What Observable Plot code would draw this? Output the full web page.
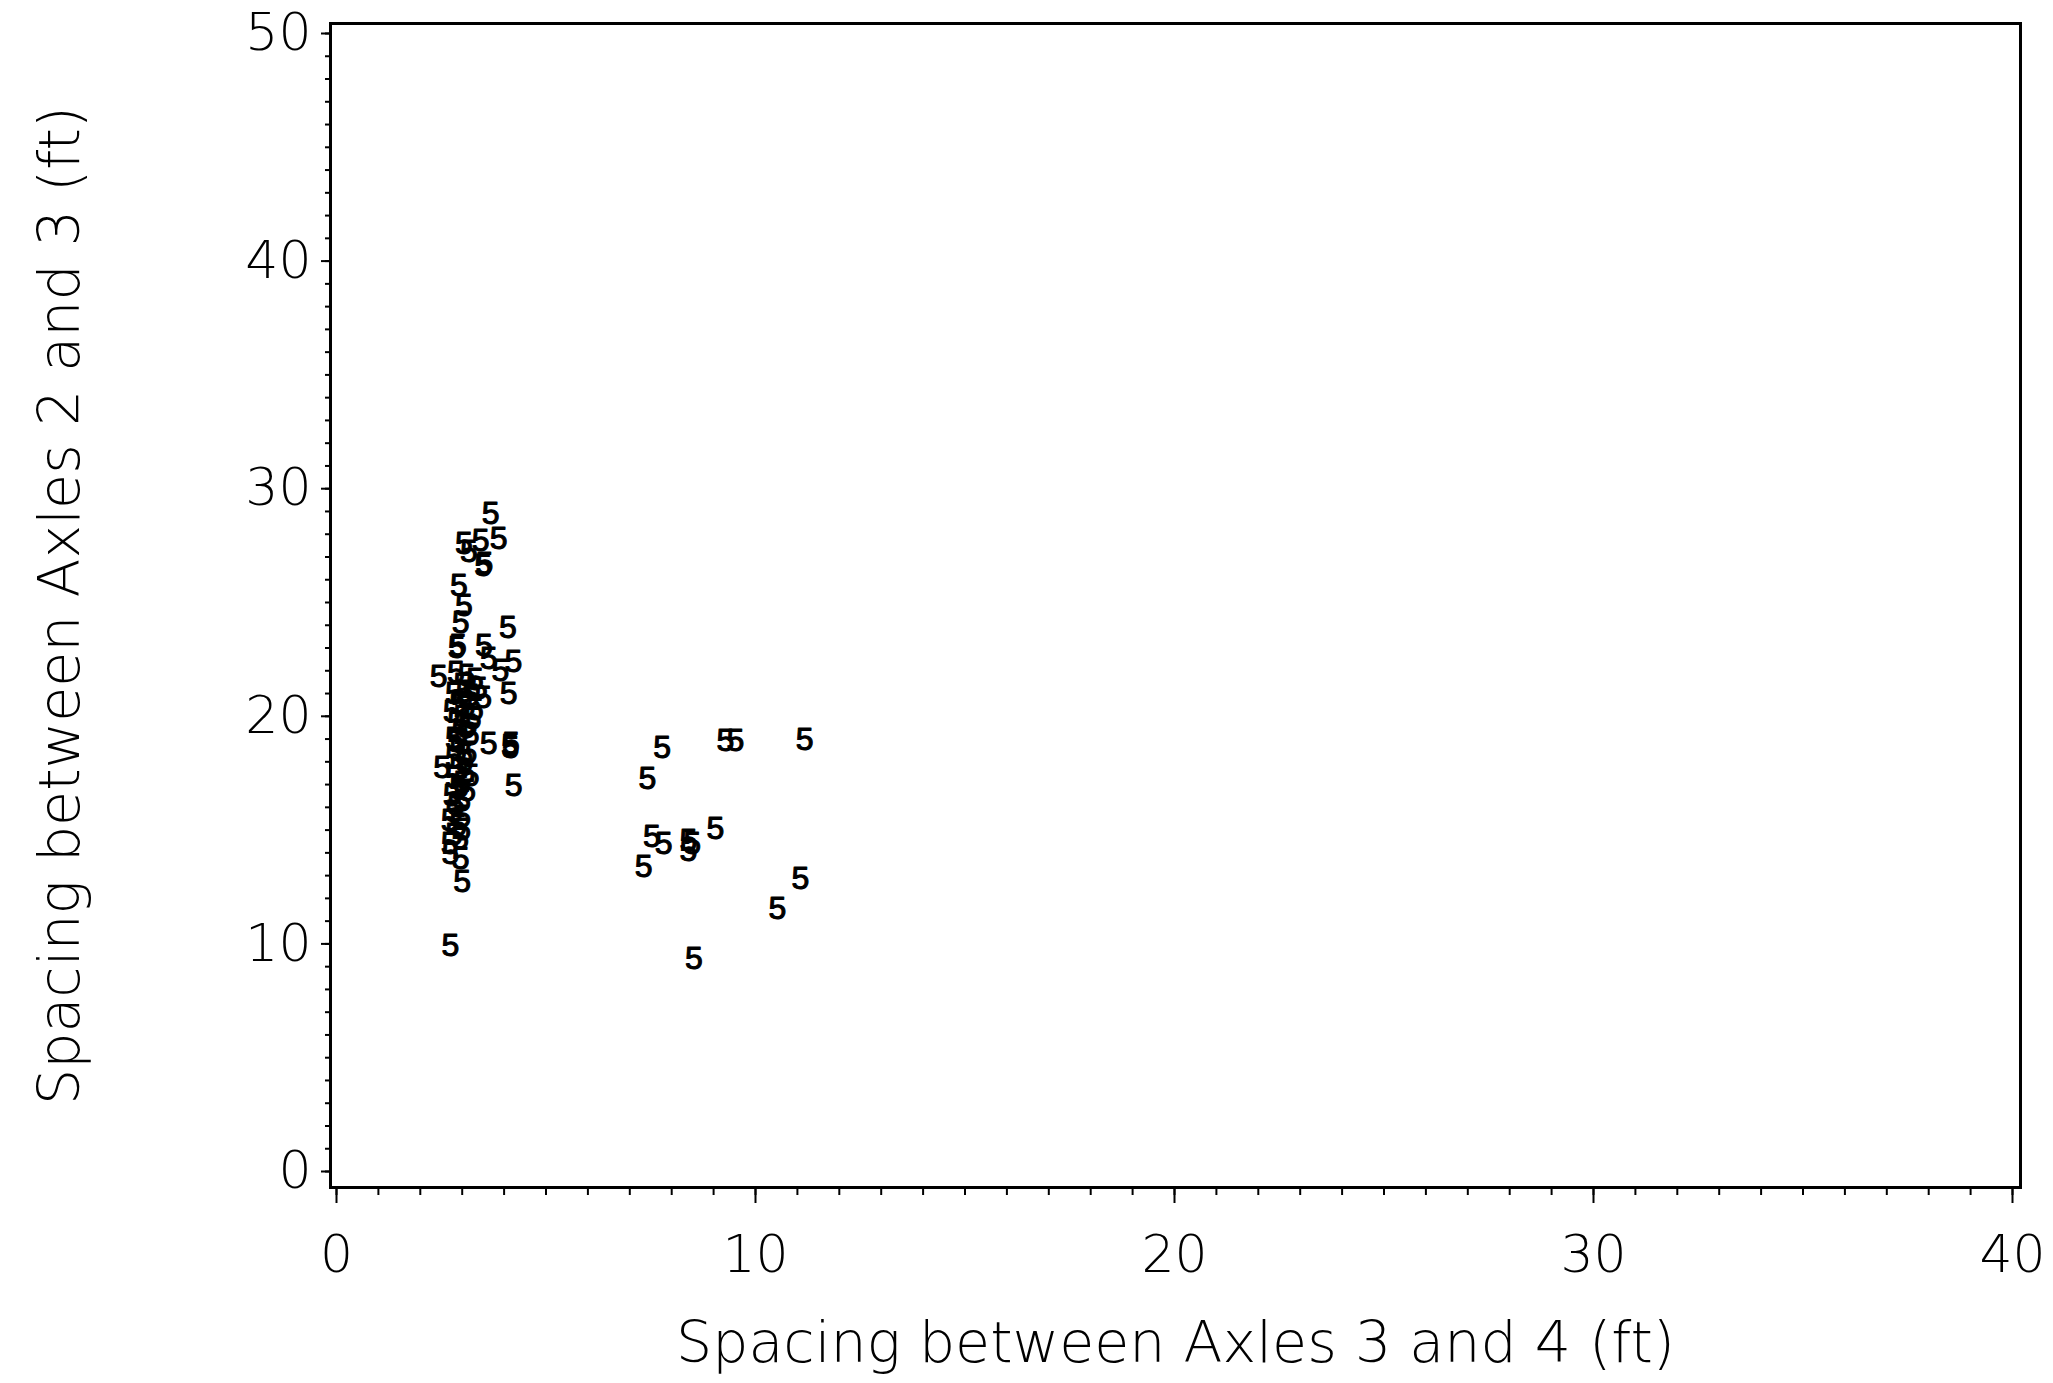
<!DOCTYPE html>
<html><head><meta charset="utf-8">
<script src="https://cdn.jsdelivr.net/npm/d3@7"></script>
<script src="https://cdn.jsdelivr.net/npm/@observablehq/plot@0.6"></script>
<style>
html,body{margin:0;padding:0;background:#fff;}
#chart svg{display:block;}
</style></head><body><div id="chart"></div>
<script>
// Left cluster (axle 3-4 spacing ~2.4-4.3 ft)
const leftX = [3.68,3.04,3.44,3.87,3.16,3.50,3.53,2.92,3.04,2.96,4.09,2.87,2.90,3.52,3.63,4.22,3.91,2.44,4.11,3.63,4.14,4.16,4.15,2.52,3.12,4.23,2.72,2.96,3.00,2.72];
const leftY = [28.90,27.58,27.72,27.80,27.21,26.60,26.70,25.75,24.87,24.13,23.91,23.00,23.10,23.11,22.53,22.38,22.01,21.72,20.99,18.79,18.70,18.80,18.60,17.76,16.74,16.96,13.96,13.75,12.71,9.93];
// Dense core of the left cluster
const coreX = [2.85,3.10,3.30,3.00,3.40,2.80,3.20,3.50,2.90,3.10,3.30,2.75,3.00,3.25,2.85,3.10,2.95,3.20,2.80,3.00,2.90,3.15,2.80,3.05,2.90,3.10,2.80,3.00,3.20,2.90,2.75,3.00,2.85,2.80,3.00,2.70,2.90,3.00,2.80,2.95,2.70,3.05,2.95,3.15,2.85,3.05,2.95];
const coreY = [21.9,21.8,21.6,21.4,21.2,21.0,20.9,20.8,20.6,20.4,20.3,20.2,20.0,19.9,19.7,19.5,19.3,19.2,19.0,18.8,18.5,18.4,18.2,18.0,17.7,17.5,17.3,17.1,17.4,16.8,16.5,16.3,16.1,15.8,15.6,15.4,15.2,15.0,14.8,14.6,14.4,21.1,20.5,19.6,18.9,18.3,16.9];
// Right cluster (axle 3-4 spacing ~7-11 ft)
const rightX = [7.77,9.28,9.52,11.17,7.42,7.53,7.81,8.40,8.49,8.40,9.04,7.33,11.07,10.52,8.53];
const rightY = [18.64,18.94,18.94,18.98,17.25,14.69,14.40,14.54,14.41,14.10,15.07,13.37,12.87,11.56,9.36];
const symbol = "5";
const xTicks = [0, 10, 20, 30, 40];
const yTicks = [0, 10, 20, 30, 40, 50];
const xMinor = d3.range(0, 41);
const yMinor = d3.range(0, 51);
const xLabel = "Spacing between Axles 3 and 4 (ft)";
const yLabel = "Spacing between Axles 2 and 3 (ft)";

const points = [];
[[leftX, leftY], [coreX, coreY], [rightX, rightY]].forEach(([xs, ys]) => {
  xs.forEach((x, i) => points.push({x, y: ys[i], symbol}));
});

const thin = "'DejaVu Sans', sans-serif";
const chart = Plot.plot({
  width: 2053, height: 1383,
  marginLeft: 330, marginRight: 33, marginTop: 23, marginBottom: 196,
  style: {background: "#fff", color: "#000", fontFamily: thin},
  x: {domain: [0, 40], insetLeft: 6, insetRight: 8},
  y: {domain: [0, 50], insetTop: 10, insetBottom: 16},
  marks: [
    Plot.frame({stroke: "#000", strokeWidth: 3}),
    Plot.axisY(yMinor, {tickSize: 5, strokeWidth: 2, fill: "none", label: null}),
    Plot.axisY(yTicks, {tickSize: 9, tickPadding: 10, strokeWidth: 2, fontSize: 52, fontWeight: 200, label: null}),
    Plot.axisY([], {tickSize: 0, fontSize: 57, fontWeight: 200,
      label: yLabel, labelAnchor: "center", labelOffset: 292, labelArrow: "none"}),
    Plot.axisX(xMinor, {tickSize: 8, strokeWidth: 2, fill: "none", label: null}),
    Plot.axisX(xTicks, {tickSize: 16, tickPadding: 32, strokeWidth: 2, fontSize: 52, fontWeight: 200, label: null}),
    Plot.axisX([], {tickSize: 0, fontSize: 57, fontWeight: 200,
      label: xLabel, labelAnchor: "center", labelOffset: 174, labelArrow: "none"}),
    Plot.text(points, {x: "x", y: "y", text: "symbol", fontSize: 32,
      fontFamily: "'Liberation Sans', Arial, sans-serif", fill: "#000", stroke: "#000", strokeWidth: 1.1})
  ]
});
document.getElementById("chart").append(chart);
</script></body></html>
